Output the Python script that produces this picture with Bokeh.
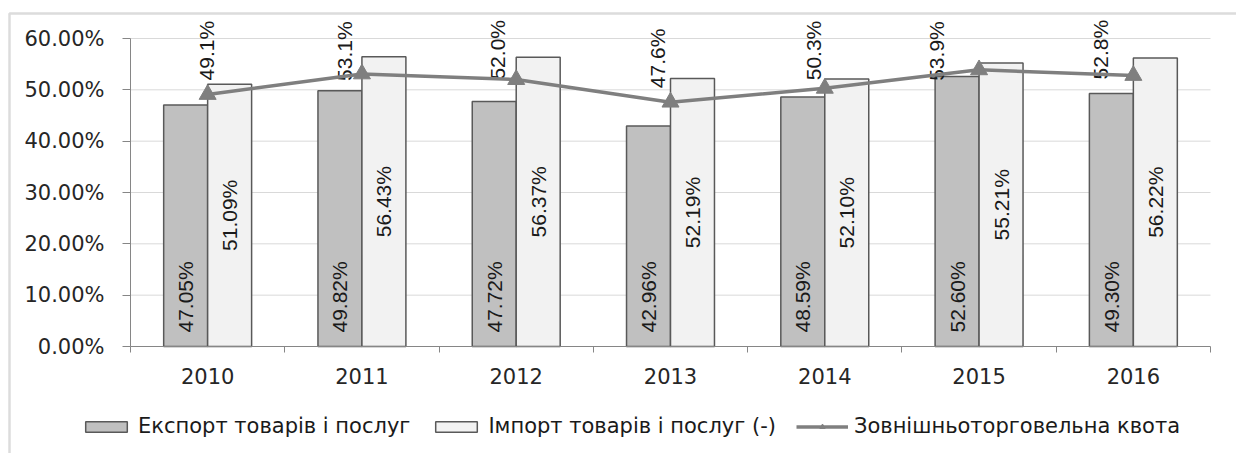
import math
from bokeh.plotting import figure
from bokeh.models import (ColumnDataSource, FixedTicker, PrintfTickFormatter,
                          Legend, LegendItem, Range1d, BoxAnnotation)
from bokeh.embed import file_html
from bokeh.resources import INLINE
from bokeh.core.properties import value

years = ["2010", "2011", "2012", "2013", "2014", "2015", "2016"]
export = [47.05, 49.82, 47.72, 42.96, 48.59, 52.60, 49.30]
imports = [51.09, 56.43, 56.37, 52.19, 52.10, 55.21, 56.22]
quota = [49.1, 53.1, 52.0, 47.6, 50.3, 53.9, 52.8]
y_ticks = [0, 10, 20, 30, 40, 50, 60]
series_names = ["Експорт товарів і послуг", "Імпорт товарів і послуг (-)",
                "Зовнішньоторговельна квота"]

# label placement of the quota labels (pixel nudges, as in the original)
q_label_dx = [-1, -17, -19, -13, -11, -43, -33]
q_label_dy = [-14, 7, 0, -14, -8, 11, 4]

# ---- geometry (pixels) ----
W, H = 1236, 453
PL, PR, PT, PB = 130, 1210, 38, 346          # plot area inside canvas
N = len(years)
YMAX = y_ticks[-1]
px_x = (PR - PL) / N
px_y = (PB - PT) / YMAX
x_range = Range1d(-PL / px_x, N + (W - PR) / px_x)
y_range = Range1d(-(H - PB) / px_y, YMAX + PT / px_y)

BW = 0.285
xc = [i + 0.5 for i in range(N)]
src = ColumnDataSource(dict(
    xc=xc,
    xe=[v - BW / 2 for v in xc],
    xi=[v + BW / 2 for v in xc],
    export=export,
    imports=imports,
    quota=quota,
    zero=[0] * N,
    imp_mid=[v / 2 for v in imports],
    exp_lbl=[f"{v:.2f}%" for v in export],
    imp_lbl=[f"{v:.2f}%" for v in imports],
    q_lbl=[f"{v:.1f}%" for v in quota],
    q_dx=q_label_dx,
    q_dy=q_label_dy,
))
grid_src = ColumnDataSource(dict(y=y_ticks[1:], x0=[0] * (len(y_ticks) - 1),
                                 x1=[N] * (len(y_ticks) - 1)))

p = figure(width=W, height=H, x_range=x_range, y_range=y_range,
           output_backend="svg", toolbar_location=None, min_border=0)
p.outline_line_color = None
p.background_fill_color = "white"
p.border_fill_color = "white"
p.xgrid.visible = False
p.ygrid.visible = False

# grid lines limited to the plot area
p.segment(x0="x0", x1="x1", y0="y", y1="y", source=grid_src,
          line_color="#d9d9d9", line_width=1)

# y axis
p.yaxis.fixed_location = 0
p.yaxis.bounds = (0, YMAX)
p.yaxis.ticker = FixedTicker(ticks=y_ticks)
p.yaxis.formatter = PrintfTickFormatter(format="%.2f%%")
p.yaxis.axis_line_color = "#868686"
p.yaxis.major_tick_line_color = "#868686"
p.yaxis.major_tick_out = 8
p.yaxis.major_tick_in = 0
p.yaxis.minor_tick_line_color = None
p.yaxis.major_label_standoff = 18
p.yaxis.major_label_text_font = "DejaVu Sans"
p.yaxis.major_label_text_font_size = "21px"
p.yaxis.major_label_text_color = "#262626"

# x axis
p.xaxis.fixed_location = 0
p.xaxis.bounds = (0, N)
p.xaxis.ticker = FixedTicker(ticks=xc, minor_ticks=list(range(N + 1)))
p.xaxis.major_label_overrides = {v: y for v, y in zip(xc, years)}
p.xaxis.axis_line_color = "#868686"
p.xaxis.major_tick_line_color = None
p.xaxis.major_tick_out = 0
p.xaxis.major_tick_in = 0
p.xaxis.minor_tick_line_color = "#868686"
p.xaxis.minor_tick_out = 6
p.xaxis.minor_tick_in = 0
p.xaxis.major_label_standoff = 15
p.xaxis.major_label_text_font = "DejaVu Sans"
p.xaxis.major_label_text_font_size = "21px"
p.xaxis.major_label_text_color = "#262626"

# bars
r_exp = p.vbar(x="xe", top="export", bottom=0, width=BW, source=src,
               fill_color="#c0c0c0", line_color="#595959", line_width=1.5)
r_imp = p.vbar(x="xi", top="imports", bottom=0, width=BW, source=src,
               fill_color="#f2f2f2", line_color="#595959", line_width=1.5)

lbl_font = value("Liberation Sans")
p.text(x="xe", y="zero", text="exp_lbl", source=src, angle=math.pi / 2,
       text_align="left", text_baseline="middle", y_offset=-14,
       text_font=lbl_font, text_font_size="21px", text_color="#1a1a1a")
p.text(x="xi", y="imp_mid", text="imp_lbl", source=src, angle=math.pi / 2,
       text_align="center", text_baseline="middle",
       text_font=lbl_font, text_font_size="21px", text_color="#1a1a1a")
p.text(x="xc", y="quota", text="q_lbl", source=src, angle=math.pi / 2,
       text_align="left", text_baseline="middle", x_offset="q_dx", y_offset="q_dy",
       text_font=lbl_font, text_font_size="21px", text_color="#1a1a1a")

# line with markers (drawn over the labels, as in the original)
r_line = p.line(x="xc", y="quota", source=src, line_color="#7f7f7f", line_width=3.5)
r_mark = p.scatter(x="xc", y="quota", source=src, marker="triangle", size=17,
                   fill_color="#7f7f7f", line_color="#7f7f7f")

# outer chart-box edges (top and left visible, the rest is cropped)
frame_box = BoxAnnotation(left=x_range.start + 9 / px_x, right=x_range.end + 5,
                          top=y_range.end - 13 / px_y, bottom=y_range.start - 50,
                          fill_alpha=0, line_color="#8a8a8a", line_width=2.5)
p.add_layout(frame_box)

legend = Legend(items=[
    LegendItem(label=series_names[0], renderers=[r_exp]),
    LegendItem(label=series_names[1], renderers=[r_imp]),
    LegendItem(label=series_names[2], renderers=[r_line, r_mark]),
], orientation="horizontal", location=(80, 15), glyph_width=52, glyph_height=13,
    label_standoff=6, spacing=20, padding=0, margin=0,
    border_line_color=None, background_fill_alpha=0,
    label_text_font="DejaVu Sans", label_text_font_size="21px",
    label_text_color="#1a1a1a")
p.add_layout(legend, "center")

open("out.html", "w").write(file_html(p, INLINE))
